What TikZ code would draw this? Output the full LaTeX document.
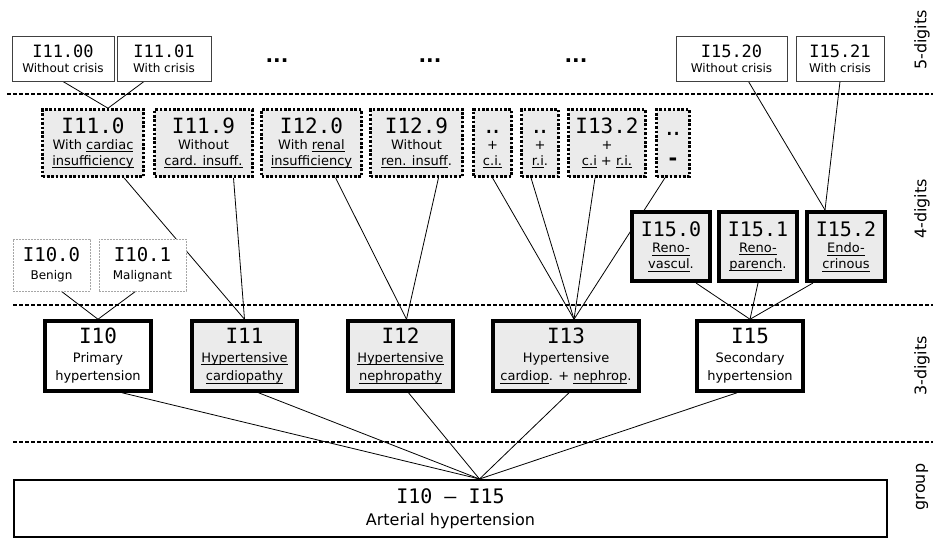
\documentclass[tikz,border=0pt]{standalone}
\usepackage{fontspec}
\setmainfont{DejaVu Sans}
\newfontfamily\codefont{DejaVu Sans Mono}
\usepackage{tikz}
\usetikzlibrary{backgrounds}
\newcommand{\icd}[2]{{\codefont\fontsize{#1}{#1}\selectfont #2}}
\newcommand{\idots}{{\codefont\fontsize{21}{21}\selectfont\vphantom{I}.\kern-5.5pt.}}
\newsavebox{\ulbox}
\newcommand{\uln}[1]{\sbox\ulbox{#1}\rlap{\rule[-3pt]{\wd\ulbox}{0.9pt}}\usebox\ulbox}

\begin{document}
\begin{tikzpicture}[x=1pt,y=-1pt,
  box/.style={align=center,inner sep=0pt},
  fivebox/.style={box,draw=black!75,line width=1pt,fill=white,minimum height=45pt,
    font=\fontsize{12}{15}\selectfont},
  fourbox/.style={box,draw=black,line width=2.6pt,dash pattern=on 2.6pt off 1.8pt,
    fill=black!8,minimum height=67pt,font=\fontsize{13}{16}\selectfont},
  fifteenbox/.style={box,draw=black,line width=4pt,fill=black!8,minimum width=78pt,
    minimum height=69pt,font=\fontsize{13}{16}\selectfont},
  tenbox/.style={box,draw=black!35,line width=0.8pt,dash pattern=on 2pt off 1pt,
    fill=white,minimum height=52pt,font=\fontsize{12}{18}\selectfont},
  threebox/.style={box,draw=black,line width=3.5pt,fill=white,minimum height=70pt,
    font=\fontsize{13}{18.5}\selectfont},
  groupbox/.style={box,draw=black,line width=2pt,fill=white,font=\fontsize{16}{22}\selectfont},
  side/.style={rotate=90,font=\fontsize{16}{16}\selectfont},
  more/.style={font=\fontsize{20}{20}\selectfont\bfseries},
  sep/.style={line width=1.4pt,dash pattern=on 4pt off 2pt},
  link/.style={line width=0.8pt}]
\useasboundingbox (0,0) rectangle (934,538);
% Level labels
\node[side] (lab5) at (922,40) {5-digits};
\node[side] (lab4) at (922,209) {4-digits};
\node[side] (lab3) at (922,366) {3-digits};
\node[side] (labg) at (922,487) {group};
% 5-digit codes
\node[fivebox,minimum width=102pt] (n1100) at (63,58.5) {\icd{17}{I11.00}\\Without crisis};
\node[fivebox,minimum width=94pt] (n1101) at (164,58.5) {\icd{17}{I11.01}\\With crisis};
\node[more] (dots1) at (277,61) {...};
\node[more] (dots2) at (430,61) {...};
\node[more] (dots3) at (576,61) {...};
\node[fivebox,minimum width=111pt] (n1520) at (731.5,58.5) {\icd{17}{I15.20}\\Without crisis};
\node[fivebox,minimum width=88pt] (n1521) at (840,58.5) {\icd{17}{I15.21}\\With crisis};
% 4-digit codes
\node[fourbox,minimum width=101pt] (n110) at (93,143) {\icd{21}{I11.0}\\With \uln{cardiac}\\\uln{insufficiency}};
\node[fourbox,minimum width=98pt] (n119) at (203.5,143) {\icd{21}{I11.9}\\Without\\\uln{card. insuff.}};
\node[fourbox,minimum width=100pt] (n120) at (311.5,143) {\icd{21}{I12.0}\\With \uln{renal}\\\uln{insufficiency}};
\node[fourbox,minimum width=92pt] (n129) at (416.5,143) {\icd{21}{I12.9}\\Without\\\uln{ren. insuff}.};
\node[fourbox,minimum width=38pt] (nci) at (492.5,143) {\idots\\+\\\uln{c.i.}};
\node[fourbox,minimum width=37pt] (nri) at (540,143) {\idots\\+\\\uln{r.i}.};
\node[fourbox,minimum width=77pt] (n132) at (607,143) {\icd{21}{I13.2}\\+\\\uln{c.i} + \uln{r.i.}};
\node[fourbox,minimum width=33pt,font=\fontsize{21}{30}\selectfont] (ndash) at (673,143) {\idots\\{\bfseries -}};
\node[fifteenbox] (n150) at (671,246.5) {\icd{20}{I15.0}\\\uln{Reno-}\\\uln{vascul}.};
\node[fifteenbox] (n151) at (758,246.5) {\icd{20}{I15.1}\\\uln{Reno-}\\\uln{parench}.};
\node[fifteenbox] (n152) at (846,246.5) {\icd{20}{I15.2}\\\uln{Endo-}\\\uln{crinous}};
\node[tenbox,minimum width=77pt] (n100) at (51.5,265) {\icd{19}{I10.0}\\Benign};
\node[tenbox,minimum width=87pt] (n101) at (142.5,265) {\icd{19}{I10.1}\\Malignant};
% 3-digit codes
\node[threebox,minimum width=106pt] (n10) at (98,356) {\icd{21}{I10}\\Primary\\hypertension};
\node[threebox,fill=black!8,minimum width=105pt] (n11) at (244.5,356) {\icd{21}{I11}\\\uln{Hypertensive}\\\uln{cardiopathy}};
\node[threebox,fill=black!8,minimum width=105pt] (n12) at (400.5,356) {\icd{21}{I12}\\\uln{Hypertensive}\\\uln{nephropathy}};
\node[threebox,fill=black!8,minimum width=146pt] (n13) at (566,356) {\icd{21}{I13}\\Hypertensive\\\uln{cardiop}. + \uln{nephrop}.};
\node[threebox,minimum width=106pt] (n15) at (750,356) {\icd{21}{I15}\\Secondary\\hypertension};
% Group
\node[groupbox,minimum width=873pt,minimum height=57pt] (ngroup) at (450.5,508.5) {\icd{20}{I10 – I15}\\Arterial hypertension};
\begin{scope}[on background layer]
% Separators
\draw[sep] (7,94) -- (933,94);
\draw[sep] (13,305) -- (933,305);
\draw[sep] (13,442) -- (933,442);
% Links 5 -> 4
\draw[link] (n1100.south) -- ([xshift=15pt]n110.north);
\draw[link] ([xshift=-20pt]n1101.south) -- ([xshift=15pt]n110.north);
\draw[link] ([xshift=17pt]n1520.south) -- ([xshift=-21pt]n152.north);
\draw[link] (n1521.south) -- ([xshift=-21pt]n152.north);
% Links 4 -> 3
\draw[link] ([xshift=31pt]n110.south) -- (n11.north);
\draw[link] ([xshift=30pt]n119.south) -- (n11.north);
\draw[link] ([xshift=24pt]n120.south) -- ([xshift=6pt]n12.north);
\draw[link] ([xshift=22pt]n129.south) -- ([xshift=6pt]n12.north);
\draw[link] (nci.south) -- ([xshift=8pt]n13.north);
\draw[link] ([xshift=-9pt]nri.south) -- ([xshift=8pt]n13.north);
\draw[link] ([xshift=-12pt]n132.south) -- ([xshift=8pt]n13.north);
\draw[link] ([xshift=-8pt]ndash.south) -- ([xshift=8pt]n13.north);
\draw[link] ([xshift=25pt]n150.south) -- (n15.north);
\draw[link] (n151.south) -- (n15.north);
\draw[link] ([xshift=-33pt]n152.south) -- (n15.north);
\draw[link] ([xshift=10pt]n100.south) -- (n10.north);
\draw[link] ([xshift=-7pt]n101.south) -- (n10.north);
% Links 3 -> group
\draw[link] ([xshift=24pt]n10.south) -- ([xshift=29pt]ngroup.north);
\draw[link] ([xshift=14pt]n11.south) -- ([xshift=29pt]ngroup.north);
\draw[link] ([xshift=8pt]n12.south) -- ([xshift=29pt]ngroup.north);
\draw[link] ([xshift=3pt]n13.south) -- ([xshift=29pt]ngroup.north);
\draw[link] ([xshift=-13pt]n15.south) -- ([xshift=29pt]ngroup.north);
\end{scope}
\end{tikzpicture}
\end{document}
